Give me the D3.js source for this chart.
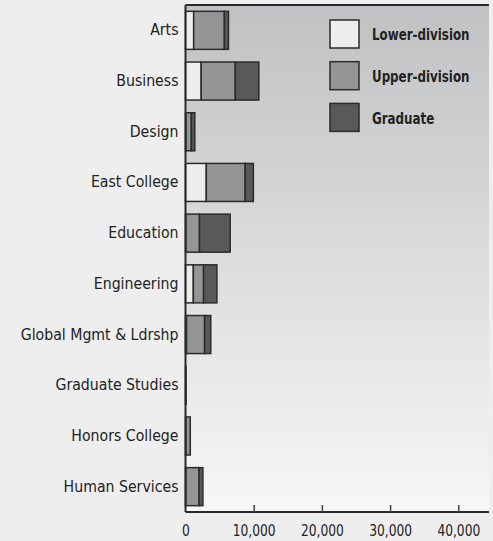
<!DOCTYPE html>
<html lang="en">
<head>
<meta charset="UTF-8">
<title>Enrollment by college</title>
<script src="https://cdn.jsdelivr.net/npm/d3@7/dist/d3.min.js"></script>
<style>
  body { margin: 0; background: #eeeeee; }
  svg { display: block; }
  .cat { font-family: "DejaVu Sans Condensed", "Liberation Sans Narrow", sans-serif; font-size: 15.7px; fill: #222; }
  .tick-label { font-family: "DejaVu Sans Condensed", "Liberation Sans Narrow", sans-serif; font-size: 15.5px; fill: #222; }
  .legend-label { font-family: "DejaVu Sans Condensed", "Liberation Sans Narrow", sans-serif; font-size: 15px; font-weight: bold; fill: #222; }
</style>
</head>
<body>
<svg width="493" height="541"></svg>
<script>
var categories = ["Arts", "Business", "Design", "East College", "Education", "Engineering",
                  "Global Mgmt & Ldrshp", "Graduate Studies", "Honors College", "Human Services"];
var lowerDiv = [1200, 2300, 60, 3050, 50, 1150, 150, 0, 50, 50];
var upperDiv = [4500, 5000, 800, 5700, 2000, 1500, 2650, 0, 650, 1950];
var graduate = [600, 3450, 500, 1200, 4500, 1950, 900, 80, 0, 550];
var seriesNames = ["Lower-division", "Upper-division", "Graduate"];
var tickValues = [0, 10000, 20000, 30000, 40000];

var colors = ["#ededee", "#949597", "#58595b"];

var svg = d3.select("svg"),
    plotLeft = 185.5, plotRight = 489, plotTop = 5, plotBottom = 512;

var x = d3.scaleLinear().domain([0, 44500]).range([plotLeft, plotRight]);
var y = d3.scaleBand().domain(categories).range([plotTop, plotBottom]).paddingInner(0.25).paddingOuter(0.125);

// plot background gradient
var defs = svg.append("defs");
var grad = defs.append("linearGradient").attr("id", "bg")
    .attr("x1", 0).attr("y1", 0).attr("x2", 0).attr("y2", 1);
grad.append("stop").attr("offset", "0%").attr("stop-color", "#c0c1c3");
grad.append("stop").attr("offset", "100%").attr("stop-color", "#f7f7f7");

svg.append("rect")
    .attr("x", plotLeft).attr("y", plotTop)
    .attr("width", plotRight - plotLeft).attr("height", plotBottom - plotTop)
    .attr("fill", "url(#bg)");

// stacked data
var table = categories.map(function(c, i) {
    return { cat: c, "Lower-division": lowerDiv[i], "Upper-division": upperDiv[i], "Graduate": graduate[i] };
});
var stacked = d3.stack().keys(seriesNames)(table);

svg.append("g").selectAll("g")
    .data(stacked)
    .join("g")
    .attr("fill", function(d, i) { return colors[i]; })
    .selectAll("rect")
    .data(function(d) { return d.filter(function(p) { return p[1] - p[0] > 0; }); })
    .join("rect")
    .attr("x", function(d) { return x(d[0]); })
    .attr("y", function(d) { return y(d.data.cat); })
    .attr("width", function(d) { return x(d[1]) - x(d[0]); })
    .attr("height", y.bandwidth())
    .attr("stroke", "#2a2a2a")
    .attr("stroke-width", 1.5);

// top border
svg.append("line")
    .attr("x1", plotLeft).attr("x2", plotRight)
    .attr("y1", plotTop).attr("y2", plotTop)
    .attr("stroke", "#2a2a2a").attr("stroke-width", 2);

// y axis
var yAxis = svg.append("g")
    .attr("transform", "translate(" + plotLeft + ",0)")
    .call(d3.axisLeft(y).tickSize(0).tickPadding(7));
yAxis.select(".domain").attr("stroke", "#2a2a2a").attr("stroke-width", 2).attr("d", "M0," + plotTop + "V" + plotBottom);
yAxis.selectAll("text").attr("class", "cat").attr("font-size", null).attr("font-family", null).attr("fill", null);

// x axis with ticks pointing up
var xAxis = svg.append("g")
    .attr("transform", "translate(0," + plotBottom + ")")
    .call(d3.axisBottom(x).tickValues(tickValues).tickSize(-7).tickPadding(13)
          .tickFormat(d3.format(",")));
xAxis.select(".domain").attr("stroke", "#2a2a2a").attr("stroke-width", 2).attr("d", "M" + plotLeft + ",0H" + plotRight);
xAxis.selectAll("line").attr("stroke", "#444").attr("stroke-width", 1.5);
xAxis.selectAll(".tick").filter(function(d) { return d === 0; }).select("line").remove();
xAxis.selectAll("text").attr("class", "tick-label").attr("font-size", null).attr("font-family", null).attr("fill", null)
    .attr("transform", "scale(0.88,1)");

// legend
var legend = svg.append("g").selectAll("g")
    .data(seriesNames)
    .join("g")
    .attr("transform", function(d, i) { return "translate(330," + (20 + i * 41.7) + ")"; });
legend.append("rect")
    .attr("width", 29).attr("height", 28)
    .attr("fill", function(d, i) { return colors[i]; })
    .attr("stroke", "#2a2a2a").attr("stroke-width", 1.5);
legend.append("text")
    .attr("class", "legend-label")
    .attr("transform", "scale(0.88,1)")
    .attr("x", 42 / 0.88).attr("y", 15).attr("dy", "0.35em")
    .text(function(d) { return d; });
</script>
</body>
</html>
